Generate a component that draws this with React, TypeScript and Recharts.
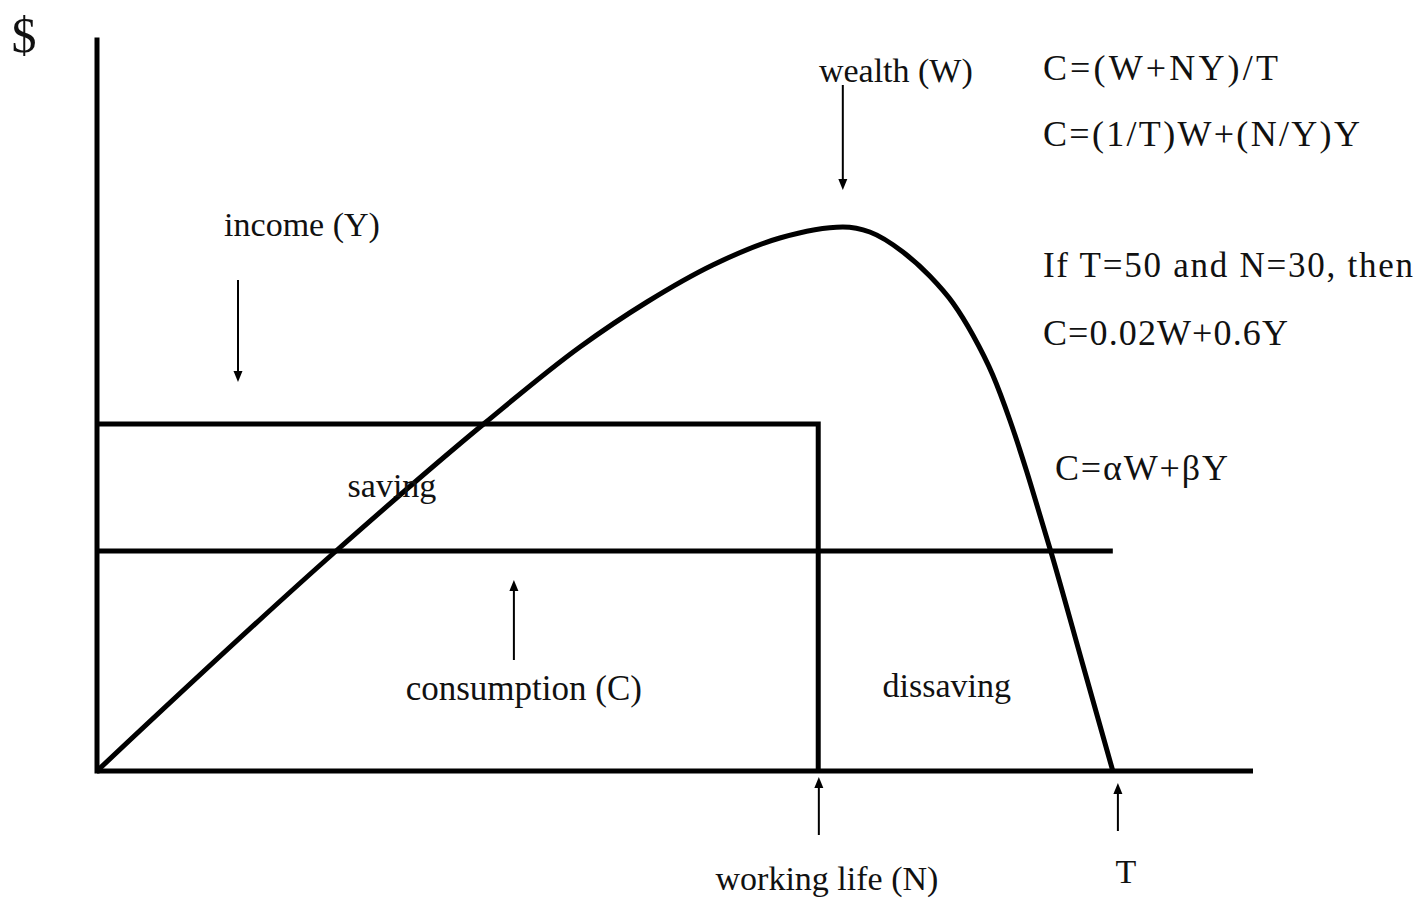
import {
  ComposedChart,
  Line,
  ReferenceDot,
  ReferenceLine,
  XAxis,
  YAxis,
} from "recharts";

// ages (x) and levels ($, y)
const lifeEnd = 50; // T
const workEnd = 35.5; // N
const incomeLevel = 34.7;
const consumptionLevel = 22;

const wealthAge = [
  0, 11.71, 19.09, 23.77, 27.07, 30.31, 33.61, 36.71, 38.04, 39.67, 40.99,
  42.13, 43.11, 44.09, 44.93, 45.77, 46.41, 47.0, 48.5, 50,
];
const wealthLevel = [
  0, 21.9, 34.8, 42.4, 46.9, 50.6, 53.3, 54.4, 53.9, 51.9, 49.5, 46.8, 43.6,
  39.6, 35.1, 29.9, 25.6, 21.6, 10.8, 0,
];

const xMax = 56.9;
const yMax = 73.1;

const wealthData = wealthAge.map((age, i) => ({ age, value: wealthLevel[i] }));
const incomeData = [
  { age: 0, value: incomeLevel },
  { age: workEnd, value: incomeLevel },
  { age: workEnd, value: 0 },
];
const consumptionData = [
  { age: 0, value: consumptionLevel },
  { age: lifeEnd, value: consumptionLevel },
];

const font = "'Liberation Serif', 'Times New Roman', serif";

const Arrow = (props: any) => {
  const { x1, y1, x2, y2 } = props;
  const dir = y2 > y1 ? 1 : -1;
  const head = 11;
  const half = 4.5;
  return (
    <g>
      <line x1={x1} y1={y1} x2={x2} y2={y2 - dir * head} stroke="#000" strokeWidth={2} />
      <polygon
        points={`${x2},${y2} ${x2 - half},${y2 - dir * head} ${x2 + half},${y2 - dir * head}`}
        fill="#000"
      />
    </g>
  );
};

const arrows = [
  { x: 36.71, from: 68.6, to: 58.1 }, // wealth
  { x: 6.94, from: 49.1, to: 38.9 }, // income
  { x: 20.52, from: 11.1, to: 19.1 }, // consumption
  { x: 35.53, from: -6.4, to: -0.6 }, // working life
  { x: 50.25, from: -6.0, to: -1.2 }, // T
];

const notes = [
  { text: "$", x: -3.59, y: 71.9, anchor: "middle", size: 50 },
  { text: "wealth (W)", x: 39.32, y: 68.9, anchor: "middle", size: 34 },
  { text: "C=(W+NY)/T", x: 46.56, y: 69.1, anchor: "start", size: 36, w: 235 },
  { text: "C=(1/T)W+(N/Y)Y", x: 46.56, y: 62.5, anchor: "start", size: 36, w: 317 },
  { text: "income (Y)", x: 10.09, y: 53.5, anchor: "middle", size: 34 },
  { text: "If T=50 and N=30, then", x: 46.56, y: 49.4, anchor: "start", size: 35, w: 370 },
  { text: "C=0.02W+0.6Y", x: 46.56, y: 42.6, anchor: "start", size: 36, w: 245 },
  { text: "C=αW+βY", x: 47.15, y: 29.1, anchor: "start", size: 36, w: 173 },
  { text: "saving", x: 14.52, y: 27.4, anchor: "middle", size: 34 },
  { text: "consumption (C)", x: 21.01, y: 7.1, anchor: "middle", size: 35 },
  { text: "dissaving", x: 41.83, y: 7.4, anchor: "middle", size: 34 },
  { text: "working life (N)", x: 35.93, y: -11.9, anchor: "middle", size: 34 },
  { text: "T", x: 50.64, y: -11.2, anchor: "middle", size: 34 },
];

export default function App() {
  return (
    <div style={{ position: "absolute", left: 0, top: 0, background: "#fff" }}>
      <ComposedChart
        width={1421}
        height={899}
        margin={{ top: 40, right: 168, bottom: 128, left: 97 }}
      >
        <XAxis type="number" dataKey="age" domain={[0, xMax]} allowDataOverflow hide />
        <YAxis type="number" domain={[0, yMax]} allowDataOverflow hide />

        {/* axes */}
        <ReferenceLine
          segment={[
            { x: 0, y: 0 },
            { x: 0, y: yMax },
          ]}
          stroke="#000"
          strokeWidth={5}
          strokeLinecap="square"
          ifOverflow="visible"
        />
        <ReferenceLine
          segment={[
            { x: 0, y: 0 },
            { x: xMax, y: 0 },
          ]}
          stroke="#000"
          strokeWidth={5}
          ifOverflow="visible"
        />

        <Line
          data={incomeData}
          dataKey="value"
          type="linear"
          stroke="#000"
          strokeWidth={5}
          dot={false}
          activeDot={false}
          isAnimationActive={false}
        />
        <Line
          data={consumptionData}
          dataKey="value"
          type="linear"
          stroke="#000"
          strokeWidth={5}
          dot={false}
          activeDot={false}
          isAnimationActive={false}
        />
        <Line
          data={wealthData}
          dataKey="value"
          type="monotone"
          stroke="#000"
          strokeWidth={5}
          dot={false}
          activeDot={false}
          isAnimationActive={false}
        />

        {arrows.map((a, i) => (
          <ReferenceLine
            key={"a" + i}
            segment={[
              { x: a.x, y: a.from },
              { x: a.x, y: a.to },
            ]}
            ifOverflow="visible"
            shape={Arrow}
          />
        ))}

        {notes.map((n, i) => (
          <ReferenceDot
            key={"n" + i}
            x={n.x}
            y={n.y}
            r={0}
            ifOverflow="visible"
            shape={(p: any) => (
              <text
                x={p.cx}
                y={p.cy}
                textAnchor={n.anchor as any}
                fontFamily={font}
                fontSize={n.size}
                fill="#111"
                textLength={n.w}
                lengthAdjust={n.w ? "spacing" : undefined}
              >
                {n.text}
              </text>
            )}
          />
        ))}
      </ComposedChart>
    </div>
  );
}
